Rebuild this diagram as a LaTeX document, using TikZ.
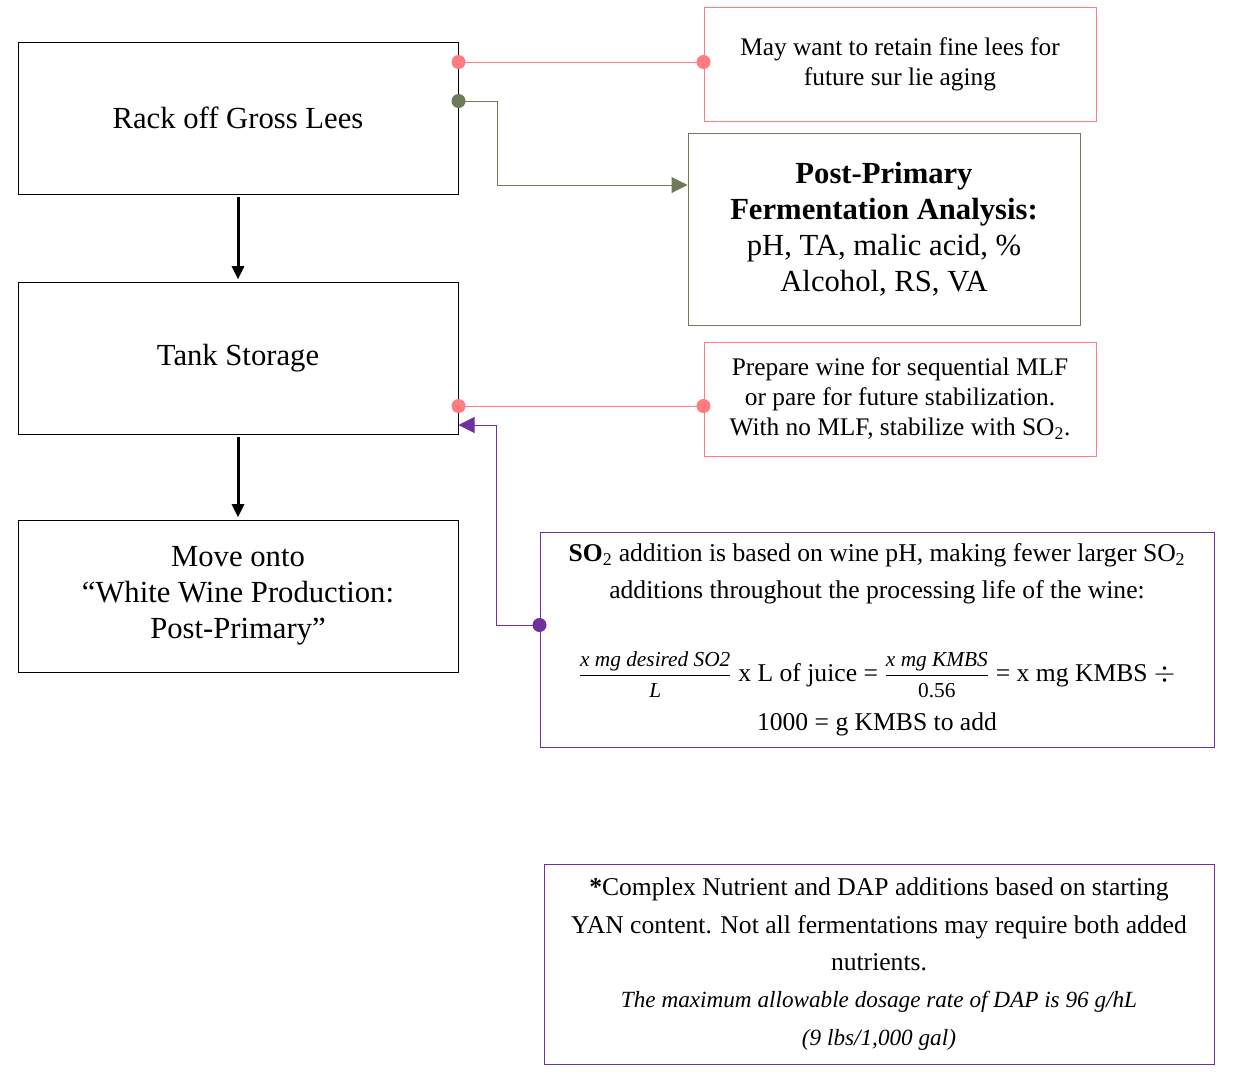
\documentclass[tikz,border=0pt]{standalone}
\usepackage{amsmath}
\usepackage{fontspec}
\setmainfont{Liberation Serif}
\usetikzlibrary{arrows.meta}
\definecolor{rose}{HTML}{FF7C80}
\definecolor{vertgris}{HTML}{6E7B5A}
\definecolor{violet}{HTML}{7030A0}
\begin{document}
\begin{tikzpicture}[x=0.75pt,y=-0.75pt]
    \tikzstyle{boite}=[draw,line width=0.75pt,minimum width=330pt,minimum height=114pt,align=center,font=\fontsize{23}{27}\selectfont]
    \tikzstyle{remarque}=[draw=rose,line width=0.75pt,minimum width=294pt,minimum height=85.5pt,align=center,font=\fontsize{19}{22.5}\selectfont]
    \tikzstyle{encadre}=[draw=violet,line width=0.75pt,align=center,font=\fontsize{19.2}{28}\selectfont]
    \tikzstyle{fleche}=[line width=2.25pt,-{Triangle[length=10pt,width=9pt]},shorten <=1.5pt,shorten >=1.5pt]
    \tikzstyle{lien}=[line width=0.75pt]
    \tikzstyle{pastille}=[radius=5.25pt]
    \useasboundingbox (0,0) rectangle (1236,1086);
    % colonne de gauche
    \node[boite] (rack) at (238,118) {Rack off Gross Lees};
    \node[boite] (tank) at (238,358) {Tank Storage};
    \node[boite] (move) at (238,596) {Move onto\\“White Wine Production:\\Post-Primary”};
    \draw[fleche] (rack) -- (tank);
    \draw[fleche] (tank) -- (move);
    % remarques
    \node[remarque] (lies) at (900,64) {May want to retain fine lees for\\future sur lie aging};
    \node[draw=vertgris,line width=0.75pt,minimum width=294pt,minimum height=144pt,align=center,font=\fontsize{23}{27}\selectfont] (analyse) at (884,229)
        {\textbf{Post-Primary}\\\textbf{Fermentation Analysis:}\\pH, TA, malic acid, \%\\Alcohol, RS, VA};
    \node[remarque] (mlf) at (900,399) {Prepare wine for sequential MLF\\or pare for future stabilization.\\With no MLF, stabilize with SO\textsubscript{2}.};
    \node[encadre,minimum width=505.5pt,minimum height=161.25pt] (so2) at (877,640)
        {\textbf{SO}\textsubscript{2} addition is based on wine pH, making fewer larger SO\textsubscript{2}\\
         additions throughout the processing life of the wine:\\[34pt]
         {\fontsize{16}{18}\selectfont$\dfrac{\textit{x mg desired SO2}}{\textit{L}}$} x L of juice = {\fontsize{16}{18}\selectfont$\dfrac{\textit{x mg KMBS}}{\textrm{0.56}}$} = x mg KMBS $\div$\\[9pt]
         1000 = g KMBS to add};
    \node[encadre,minimum width=502.5pt,minimum height=150pt] (nutri) at (879,964)
        {\textbf{*}Complex Nutrient and DAP additions based on starting\\
         YAN content. Not all fermentations may require both added\\
         nutrients.\\
         {\fontsize{17.4}{28}\selectfont\itshape The maximum allowable dosage rate of DAP is 96 g/hL}\\
         {\fontsize{17.4}{28}\selectfont\itshape (9 lbs/1,000 gal)}};
    % liens
    \coordinate (r1) at ([yshift=42pt]rack.east);
    \coordinate (l1) at ([yshift=1.5pt]lies.west);
    \coordinate (r2) at ([yshift=12.75pt]rack.east);
    \coordinate (t1) at ([yshift=-36pt]tank.east);
    \coordinate (m1) at ([yshift=-5.25pt]mlf.west);
    \coordinate (t2) at ([yshift=-50.25pt]tank.east);
    \coordinate (s1) at ([yshift=11.25pt]so2.west);
    \draw[lien,rose] (r1) -- (l1);
    \fill[rose] (r1) circle[pastille] (l1) circle[pastille];
    \draw[lien,vertgris,-{Triangle[length=12pt,width=12pt]}] (r2) -- ++(29.25pt,0) |- ([yshift=33pt]analyse.west);
    \fill[vertgris] (r2) circle[pastille];
    \draw[lien,rose] (t1) -- (m1);
    \fill[rose] (t1) circle[pastille] (m1) circle[pastille];
    \draw[lien,violet,-{Triangle[length=12pt,width=12pt]}] (s1) -- ++(-32.25pt,0) |- (t2);
    \fill[violet] (s1) circle[pastille];
\end{tikzpicture}
\end{document}
